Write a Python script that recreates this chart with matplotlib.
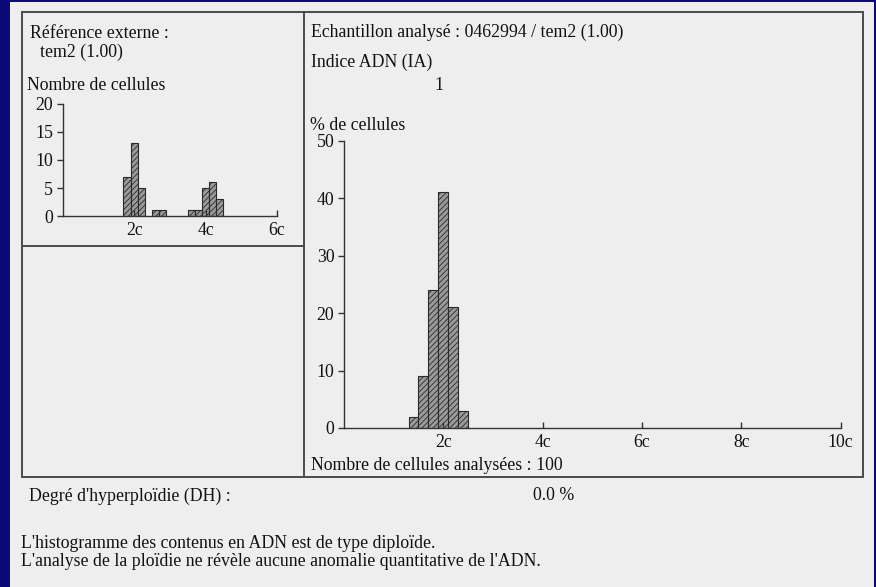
import matplotlib
matplotlib.use("Agg")
import matplotlib.pyplot as plt
from matplotlib.patches import Rectangle

plt.rcParams['font.family'] = ['Liberation Serif', 'DejaVu Serif']
plt.rcParams['hatch.linewidth'] = 0.6

# ---- data ----
ref_centers = [1.8, 2.0, 2.2, 2.6, 2.8, 3.6, 3.8, 4.0, 4.2, 4.4]
ref_counts = [7, 13, 5, 1, 1, 1, 1, 5, 6, 3]
ref_xticks = [2, 4, 6]
ref_xlabels = ["2c", "4c", "6c"]
ref_yticks = [0, 5, 10, 15, 20]

sample_centers = [1.4, 1.6, 1.8, 2.0, 2.2, 2.4]
sample_pct = [2, 9, 24, 41, 21, 3]
sample_xticks = [2, 4, 6, 8, 10]
sample_xlabels = ["2c", "4c", "6c", "8c", "10c"]
sample_yticks = [0, 10, 20, 30, 40, 50]
bin_width = 0.2

W, H = 876, 587
fig = plt.figure(figsize=(W / 100, H / 100), dpi=100)
fig.patch.set_facecolor('#0b0a78')

# overlay for paper, frame and texts (pixel coordinates)
ov = fig.add_axes([0, 0, 1, 1])
ov.set_xlim(0, W)
ov.set_ylim(H, 0)
ov.axis('off')
ov.add_patch(Rectangle((10, 2), 864, 590, facecolor='#eeeeee', edgecolor='none'))
frame_col = '#4a4a4a'
ov.add_patch(Rectangle((21.5, 12), 841, 464.5, facecolor='none', edgecolor=frame_col, lw=1.4))
ov.plot([304.3, 304.3], [12, 476.5], color=frame_col, lw=1.4)
ov.plot([21.5, 304.3], [246, 246], color=frame_col, lw=1.4)

tc = '#111111'
fs = 12.8
def txt(x, y, s, **kw):
    ov.text(x, y, s, fontsize=kw.pop('fontsize', fs), color=tc, va='center', ha=kw.pop('ha', 'left'), **kw)

txt(30, 33, "Référence externe :")
txt(40, 52, "tem2 (1.00)")
txt(27, 85, "Nombre de cellules")
txt(311, 32, "Echantillon analysé : 0462994 / tem2 (1.00)")
txt(311, 62, "Indice ADN (IA)")
txt(434, 85, "1")
txt(310, 125, "% de cellules")
txt(311, 465, "Nombre de cellules analysées : 100")
txt(29, 496, "Degré d'hyperploïdie (DH) :")
txt(533, 496, "0.0 %")
txt(21, 544, "L'histogramme des contenus en ADN est de type diploïde.")
txt(21, 562, "L'analyse de la ploïdie ne révèle aucune anomalie quantitative de l'ADN.")


def style_axes(ax, xmax, ymax, xticks, xlabels, yticks):
    ax.set_facecolor('none')
    ax.set_xlim(0, xmax)
    ax.set_ylim(0, ymax)
    for s in ('top', 'right'):
        ax.spines[s].set_visible(False)
    for s in ('left', 'bottom'):
        ax.spines[s].set_color('#333333')
        ax.spines[s].set_linewidth(1.0)
    ax.set_xticks(xticks)
    ax.set_xticklabels(xlabels)
    ax.set_yticks(yticks)
    ax.tick_params(axis='x', direction='in', length=4, width=1, colors='#333333',
                   labelcolor=tc, labelsize=fs, pad=4)
    ax.tick_params(axis='y', direction='out', length=4, width=1, colors='#333333',
                   labelcolor=tc, labelsize=fs, pad=3)


bar_kw = dict(width=bin_width, facecolor='#9a9a9a', edgecolor='#2a2a2a',
              hatch='//////', linewidth=0.8)

# reference (small) histogram
ax1 = fig.add_axes([62.7 / W, 1 - 216 / H, (277 - 62.7) / W, 112 / H])
ax1.bar(ref_centers, ref_counts, **bar_kw)
style_axes(ax1, 6, 20, ref_xticks, ref_xlabels, ref_yticks)

# sample (large) histogram
ax2 = fig.add_axes([344 / W, 1 - 428 / H, 496.5 / W, 287.3 / H])
ax2.bar(sample_centers, sample_pct, **bar_kw)
style_axes(ax2, 10, 50, sample_xticks, sample_xlabels, sample_yticks)

fig.savefig("out.png", dpi=100, facecolor=fig.get_facecolor())
